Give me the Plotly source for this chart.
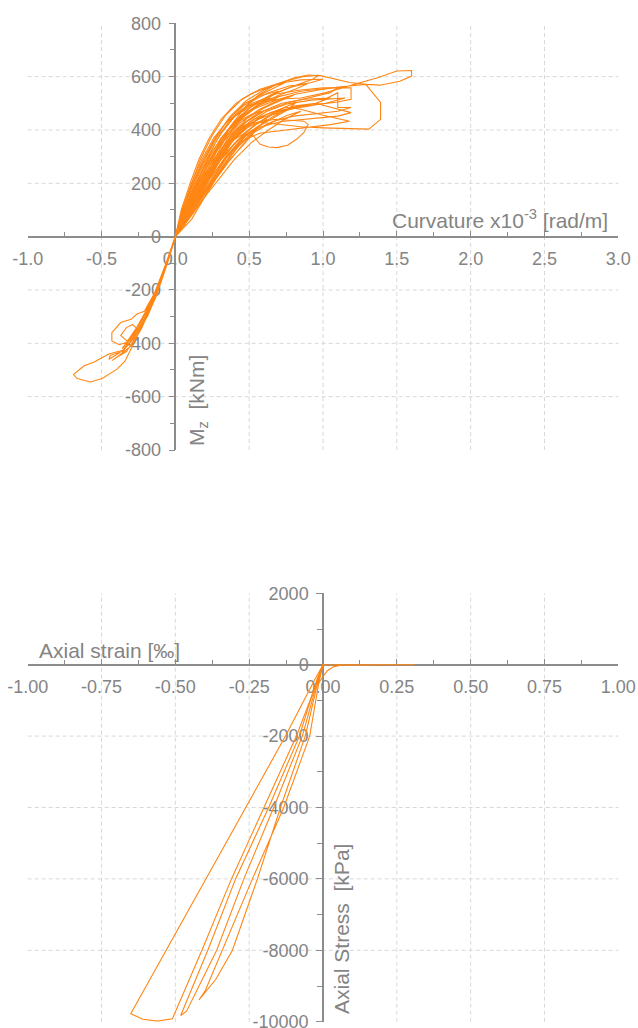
import plotly.graph_objects as go

# ---------------- Moment - curvature history ----------------
# curvature in 1e-3 rad/m, bending moment Mz in kNm
# every excursion starts and ends at the origin
phi_cycles_a = [
    0, 0.07, 0.15, 0.24, 0.33, 0.42, 0.48, 0.44, 0.36, 0.27, 0.18, 0.09, 0,
    0, -0.07, -0.14, -0.21, -0.26, -0.30, -0.37, -0.43, -0.43, -0.38, -0.32, -0.25, -0.17, -0.10, -0.04, 0,
    0, 0.06, 0.14, 0.22, 0.31, 0.42, 0.52, 0.58, 0.52, 0.42, 0.33, 0.24, 0.15, 0.07, 0,
    0, 0.05, 0.12, 0.19, 0.27, 0.36, 0.47, 0.58, 0.70, 0.62, 0.50, 0.40, 0.31, 0.22, 0.13, 0.06, 0,
    0, -0.07, -0.15, -0.23, -0.30, -0.36, -0.45, -0.44, -0.35, -0.325, -0.27, -0.20, -0.13, -0.06, 0,
    0, 0.09, 0.19, 0.30, 0.42, 0.54, 0.68, 0.82, 0.75, 0.62, 0.50, 0.40, 0.30, 0.20, 0.11, 0,
    0, 0.05, 0.11, 0.18, 0.26, 0.35, 0.46, 0.56, 0.65, 0.58, 0.48, 0.39, 0.30, 0.21, 0.12, 0.05, 0,
]
m_cycles_a = [
    0, 100, 200, 290, 360, 405, 420, 400, 345, 260, 160, 70, 0,
    0, -110, -210, -280, -290, -310, -322, -360, -391, -405, -395, -340, -255, -165, -70, 0,
    0, 100, 200, 290, 370, 430, 460, 470, 448, 405, 340, 250, 150, 60, 0,
    0, 100, 200, 290, 370, 440, 500, 530, 545, 522, 482, 430, 355, 255, 150, 65, 0,
    0, -115, -225, -320, -390, -430, -460, -445, -429, -398, -350, -280, -200, -100, 0,
    0, 100, 200, 290, 360, 420, 470, 505, 472, 432, 392, 330, 245, 150, 65, 0,
    0, 100, 200, 290, 370, 430, 480, 505, 520, 500, 466, 420, 350, 255, 150, 60, 0,
]

phi_cycles_b = [
    0, -0.06, -0.12, -0.19, -0.25, -0.29, -0.33, -0.37, -0.33, -0.28, -0.21, -0.13, -0.06, 0,
    0, 0.05, 0.12, 0.20, 0.28, 0.37, 0.48, 0.60, 0.73, 0.86, 0.97, 0.93, 0.80, 0.67, 0.55, 0.44, 0.35, 0.26, 0.17, 0.08, 0,
    0, 0.08, 0.17, 0.27, 0.37, 0.46, 0.53, 0.574, 0.63, 0.687, 0.76, 0.82, 0.87, 0.90, 0.87, 0.78, 0.68, 0.58, 0.49, 0.40, 0.31, 0.22, 0.12, 0.05, 0,
    0, 0.06, 0.13, 0.21, 0.30, 0.40, 0.51, 0.63, 0.77, 0.90, 0.82, 0.70, 0.58, 0.47, 0.38, 0.29, 0.19, 0.10, 0,
    0, -0.07, -0.15, -0.23, -0.29, -0.33, -0.40, -0.43, -0.38, -0.30, -0.23, -0.15, -0.07, 0,
    0, 0.06, 0.14, 0.23, 0.33, 0.44, 0.56, 0.70, 0.85, 1.00, 1.10, 1.05, 0.90, 0.75, 0.60, 0.48, 0.38, 0.28, 0.18, 0.08, 0,
    0, 0.04, 0.10, 0.16, 0.23, 0.31, 0.41, 0.51, 0.63, 0.75, 0.68, 0.57, 0.46, 0.36, 0.27, 0.19, 0.11, 0.04, 0,
]
m_cycles_b = [
    0, -108, -210, -300, -350, -330, -340, -370, -390, -380, -320, -225, -110, 0,
    0, 100, 200, 290, 380, 450, 510, 550, 580, 600, 605, 590, 565, 535, 492, 445, 380, 285, 180, 80, 0,
    0, 100, 200, 290, 355, 385, 377, 346, 336, 334, 343, 365, 390, 421, 433, 435, 440, 432, 410, 370, 300, 210, 115, 45, 0,
    0, 100, 200, 290, 380, 450, 505, 540, 565, 575, 555, 530, 500, 455, 395, 305, 200, 100, 0,
    0, -115, -230, -330, -395, -430, -455, -465, -445, -410, -345, -245, -120, 0,
    0, 100, 200, 290, 370, 440, 490, 525, 545, 555, 560, 540, 520, 500, 470, 430, 370, 280, 180, 80, 0,
    0, 100, 200, 290, 370, 440, 500, 535, 560, 580, 560, 530, 490, 430, 350, 255, 150, 60, 0,
]

phi_cycles_c = [
    0, 0.07, 0.16, 0.26, 0.36, 0.47, 0.59, 0.72, 0.87, 1.05, 0.95, 0.80, 0.65, 0.53, 0.43, 0.33, 0.23, 0.13, 0.05, 0,
    0, 0.10, 0.21, 0.33, 0.44, 0.55, 0.66, 0.80, 0.95, 1.19, 1.10, 0.90, 0.72, 0.58, 0.46, 0.35, 0.25, 0.14, 0.05, 0,
    0, 0.08, 0.18, 0.29, 0.40, 0.52, 0.64, 0.75, 0.85, 1.00, 1.18, 1.05, 0.90, 0.72, 0.57, 0.45, 0.35, 0.25, 0.15, 0.06, 0,
    0, 0.05, 0.12, 0.20, 0.29, 0.40, 0.52, 0.68, 0.85, 1.00, 1.10, 1.19, 1.19, 1.10, 0.95, 0.78, 0.62, 0.49, 0.39, 0.29, 0.19, 0.09, 0,
    0, 0.09, 0.20, 0.31, 0.42, 0.53, 0.65, 0.79, 0.93, 1.10, 1.10, 1.19, 1.10, 0.95, 0.80, 0.66, 0.54, 0.44, 0.34, 0.24, 0.13, 0.05, 0,
    0, -0.06, -0.13, -0.21, -0.28, -0.35, -0.45, -0.55, -0.62, -0.69, -0.665, -0.575, -0.495, -0.395, -0.34, -0.30, -0.24, -0.17, -0.10, -0.04, 0,
    0, 0.06, 0.14, 0.22, 0.31, 0.41, 0.53, 0.67, 0.82, 0.97, 1.12, 1.29, 1.39, 1.39, 1.31, 1.15, 1.00, 0.85, 0.70, 0.56, 0.45, 0.35, 0.25, 0.15, 0.07, 0,
    0, 0.05, 0.12, 0.20, 0.29, 0.40, 0.53, 0.68, 0.85, 1.02, 1.20, 1.38, 1.50, 1.60, 1.60, 1.52, 1.385, 1.295, 1.18, 1.07, 0.99, 0.90, 0.80, 0.68, 0.56, 0.45, 0.35, 0.26, 0.17, 0.08, 0,
]
m_cycles_c = [
    0, 100, 200, 290, 365, 428, 470, 500, 515, 520, 500, 485, 465, 440, 400, 330, 235, 135, 50, 0,
    0, 100, 200, 290, 360, 410, 450, 490, 500, 465, 452, 442, 432, 412, 375, 305, 215, 125, 45, 0,
    0, 100, 200, 290, 365, 425, 465, 485, 478, 455, 433, 420, 410, 400, 388, 358, 298, 210, 120, 45, 0,
    0, 100, 200, 290, 380, 450, 500, 535, 550, 558, 558, 558, 515, 505, 495, 480, 460, 420, 360, 275, 175, 75, 0,
    0, 100, 200, 290, 360, 415, 455, 480, 492, 540, 484, 484, 470, 462, 452, 432, 400, 350, 275, 185, 95, 35, 0,
    0, -105, -215, -310, -380, -425, -440, -470, -485, -517, -532, -545, -532, -497, -466, -420, -350, -270, -170, -70, 0,
    0, 100, 200, 290, 370, 432, 478, 510, 535, 550, 562, 571, 503, 440, 403, 405, 408, 412, 420, 430, 410, 350, 262, 165, 72, 0,
    0, 100, 200, 290, 380, 450, 495, 515, 520, 540, 570, 598, 621, 623, 602, 583, 568, 571, 578, 592, 603, 606, 595, 570, 530, 470, 395, 300, 195, 90, 0,
]

phi_cycles_d = [
    0, 0.11, 0.24, 0.37, 0.47, 0.55, 0.62, 0.56, 0.47, 0.38, 0.28, 0.17, 0.07, 0,
    0, -0.065, -0.135, -0.20, -0.27, -0.32, -0.36, -0.33, -0.26, -0.18, -0.11, -0.05, 0,
    0, 0.13, 0.27, 0.40, 0.52, 0.63, 0.74, 0.85, 0.76, 0.64, 0.53, 0.43, 0.33, 0.22, 0.10, 0,
    0, 0.045, 0.11, 0.17, 0.25, 0.34, 0.45, 0.57, 0.70, 0.85, 1.00, 0.92, 0.78, 0.64, 0.52, 0.41, 0.32, 0.23, 0.14, 0.06, 0,
    0, 0.12, 0.25, 0.36, 0.45, 0.55, 0.48, 0.40, 0.31, 0.21, 0.11, 0,
    0, 0.065, 0.15, 0.24, 0.34, 0.45, 0.57, 0.69, 0.80, 0.71, 0.60, 0.49, 0.39, 0.29, 0.19, 0.09, 0,
    0, 0.08, 0.18, 0.28, 0.39, 0.50, 0.62, 0.76, 0.92, 1.15, 1.02, 0.86, 0.70, 0.56, 0.45, 0.35, 0.25, 0.15, 0.06, 0,
]
m_cycles_d = [
    0, 100, 200, 290, 350, 405, 440, 425, 390, 335, 250, 150, 55, 0,
    0, -112, -218, -305, -365, -405, -420, -395, -340, -265, -180, -90, 0,
    0, 100, 200, 290, 355, 400, 440, 470, 455, 425, 390, 340, 270, 180, 80, 0,
    0, 100, 200, 290, 380, 455, 515, 552, 575, 588, 590, 578, 560, 530, 490, 440, 375, 285, 180, 80, 0,
    0, 100, 200, 280, 340, 400, 385, 350, 290, 200, 100, 0,
    0, 100, 200, 290, 370, 432, 478, 510, 530, 510, 482, 445, 390, 305, 205, 95, 0,
    0, 100, 200, 290, 368, 428, 470, 498, 512, 520, 500, 488, 468, 440, 400, 335, 245, 145, 55, 0,
]

# ---------------- Axial stress - strain history ----------------
# strain in per mille, stress in kPa
strain_cycle_a = [0, -0.03, -0.127, -0.268, -0.414, -0.533, -0.651, -0.61, -0.561, -0.51, -0.41, -0.31, -0.20, -0.09, -0.03, 0]
stress_cycle_a = [0, -450, -2000, -4090, -6235, -8000, -9777, -9930, -9985, -9917, -8000, -6000, -4000, -2000, -700, 0]
strain_tension = [0, 0.02, 0.05, 0.10, 0.20, 0.31, 0.20, 0.10, 0.06, 0.035, 0.015, 0.0, -0.015, 0]
stress_tension = [0, -10, 0, 0, 0, 0, 0, 0, -15, -60, -170, -330, -520, 0]
strain_cycle_b = [0, -0.02, -0.08, -0.184, -0.296, -0.39, -0.482, -0.462, -0.36, -0.268, -0.167, -0.07, -0.02, 0]
stress_cycle_b = [0, -400, -2000, -4000, -6000, -8000, -9825, -9704, -8000, -6000, -4000, -2000, -500, 0]
strain_cycle_c = [0, -0.015, -0.06, -0.144, -0.222, -0.307, -0.364, -0.42, -0.40, -0.341, -0.239, -0.133, -0.045, -0.01, 0]
stress_cycle_c = [0, -400, -2000, -4000, -6000, -8005, -8825, -9386, -9150, -8000, -6000, -4000, -2000, -300, 0]

# ---------------- Axis ticks ----------------
curv_ticks = [-1.0, -0.5, 0.0, 0.5, 1.0, 1.5, 2.0, 2.5, 3.0]
curv_labels = ["-1.0", "-0.5", "0.0", "0.5", "1.0", "1.5", "2.0", "2.5", "3.0"]
curv_minor = [-0.75, -0.25, 0.25, 0.75, 1.25, 1.75, 2.25, 2.75]
mom_ticks = [-800, -600, -400, -200, 0, 200, 400, 600, 800]
mom_labels = ["-800", "-600", "-400", "-200", "0", "200", "400", "600", "800"]
mom_minor = [-700, -500, -300, -100, 100, 300, 500, 700]
strain_ticks = [-1.0, -0.75, -0.5, -0.25, 0.0, 0.25, 0.5, 0.75, 1.0]
strain_labels = ["-1.00", "-0.75", "-0.50", "-0.25", "0.00", "0.25", "0.50", "0.75", "1.00"]
strain_minor = [-0.875, -0.625, -0.375, -0.125, 0.125, 0.375, 0.625, 0.875]
stress_ticks = [-10000, -8000, -6000, -4000, -2000, 0, 2000]
stress_labels = ["-10000", "-8000", "-6000", "-4000", "-2000", "0", "2000"]
stress_minor = [-9000, -7000, -5000, -3000, -1000, 1000]

ORANGE = "#ff8614"
GRID = "#d8d8d8"
AXIS = "#8c8c8c"
TEXT = "#848484"
FONT = "Liberation Sans, Arial, sans-serif"

W, H = 638, 1028
X_DOM = [27.7 / W, 618.3 / W]
Y_TOP = [(H - 450.0) / H, (H - 23.3) / H]
Y_BOT = [(H - 1021.7) / H, (H - 593.3) / H]
CURV_RANGE, MOM_RANGE = [-1.0, 3.0], [-800, 800]
STRAIN_RANGE, STRESS_RANGE = [-1.0, 1.0], [-10000, 2000]


def zero_at(rng, dom):
    """Paper fraction where value 0 falls inside an axis domain."""
    return dom[0] + (0 - rng[0]) / (rng[1] - rng[0]) * (dom[1] - dom[0])


fig = go.Figure()
line = dict(color=ORANGE, width=1.1)
for xs, ys in [(phi_cycles_a, m_cycles_a), (phi_cycles_b, m_cycles_b),
               (phi_cycles_c, m_cycles_c), (phi_cycles_d, m_cycles_d)]:
    fig.add_trace(go.Scatter(x=xs, y=ys, mode="lines", line=line, xaxis="x", yaxis="y", hoverinfo="skip"))
for xs, ys in [(strain_cycle_a, stress_cycle_a), (strain_tension, stress_tension),
               (strain_cycle_b, stress_cycle_b), (strain_cycle_c, stress_cycle_c)]:
    fig.add_trace(go.Scatter(x=xs, y=ys, mode="lines", line=line, xaxis="x2", yaxis="y2", hoverinfo="skip"))

tickfont = dict(family=FONT, size=18, color=TEXT)


def x_axis(rng, ydom, yrng, vals, labels, minor):
    return dict(
        domain=X_DOM, range=rng, anchor="free", position=zero_at(yrng, ydom),
        showline=True, linecolor=AXIS, linewidth=1.5, showgrid=False, zeroline=False,
        ticks="inside", ticklen=5, tickwidth=1.3, tickcolor=AXIS,
        tickmode="array", tickvals=vals, ticktext=labels, tickfont=tickfont,
        ticklabelstandoff=6, ticklabeloverflow="allow", automargin=False,
        minor=dict(tickvals=minor, ticks="inside", ticklen=4, tickwidth=1.2, tickcolor=AXIS),
        layer="below traces", fixedrange=True,
    )


def y_axis(ydom, rng, xrng, vals, labels, minor):
    return dict(
        domain=ydom, range=rng, anchor="free", position=zero_at(xrng, X_DOM), side="left",
        showline=True, linecolor=AXIS, linewidth=1.5, showgrid=False, zeroline=False,
        ticks="outside", ticklen=6, tickwidth=1.3, tickcolor=AXIS,
        tickmode="array", tickvals=vals, ticktext=labels, tickfont=tickfont,
        ticklabelstandoff=4, ticklabeloverflow="allow", automargin=False,
        minor=dict(tickvals=minor, ticks="outside", ticklen=5, tickwidth=1.2, tickcolor=AXIS),
        layer="below traces", fixedrange=True,
    )


grid = dict(color=GRID, width=1, dash="4px,3px")
shapes = []
for v in curv_ticks[1:-1]:
    if v != 0:
        shapes.append(dict(type="line", xref="x", yref="y domain", x0=v, x1=v, y0=0, y1=1, line=grid, layer="below"))
for v in mom_ticks[1:-1]:
    if v != 0:
        shapes.append(dict(type="line", xref="x domain", yref="y", x0=0, x1=1, y0=v, y1=v, line=grid, layer="below"))
for v in strain_ticks[1:-1]:
    if v != 0:
        shapes.append(dict(type="line", xref="x2", yref="y2 domain", x0=v, x1=v, y0=0, y1=1, line=grid, layer="below"))
for v in stress_ticks[1:-1]:
    if v != 0:
        shapes.append(dict(type="line", xref="x2 domain", yref="y2", x0=0, x1=1, y0=v, y1=v, line=grid, layer="below"))

title_font = dict(family=FONT, size=21, color=TEXT)
annotations = [
    dict(text="Curvature x10<sup>-3</sup> [rad/m]", x=499.5 / W, y=1 - 219 / H),
    dict(text="M<sub>z</sub>\u00a0\u00a0[kNm]", x=198 / W, y=1 - 401 / H, textangle=-90),
    dict(text="Axial strain [\u2030]", x=109 / W, y=1 - 650 / H),
    dict(text="Axial Stress\u00a0\u00a0[kPa]", x=341 / W, y=1 - 929 / H, textangle=-90),
]
for a in annotations:
    a.update(xref="paper", yref="paper", xanchor="center", yanchor="middle", showarrow=False, font=title_font)

fig.update_layout(
    width=W, height=H, margin=dict(l=0, r=0, t=0, b=0, autoexpand=False),
    paper_bgcolor="white", plot_bgcolor="white", showlegend=False,
    xaxis=x_axis(CURV_RANGE, Y_TOP, MOM_RANGE, curv_ticks, curv_labels, curv_minor),
    yaxis=y_axis(Y_TOP, MOM_RANGE, CURV_RANGE, mom_ticks, mom_labels, mom_minor),
    xaxis2=x_axis(STRAIN_RANGE, Y_BOT, STRESS_RANGE, strain_ticks, strain_labels, strain_minor),
    yaxis2=y_axis(Y_BOT, STRESS_RANGE, STRAIN_RANGE, stress_ticks, stress_labels, stress_minor),
    shapes=shapes, annotations=annotations,
)

fig.write_html("out.html")
